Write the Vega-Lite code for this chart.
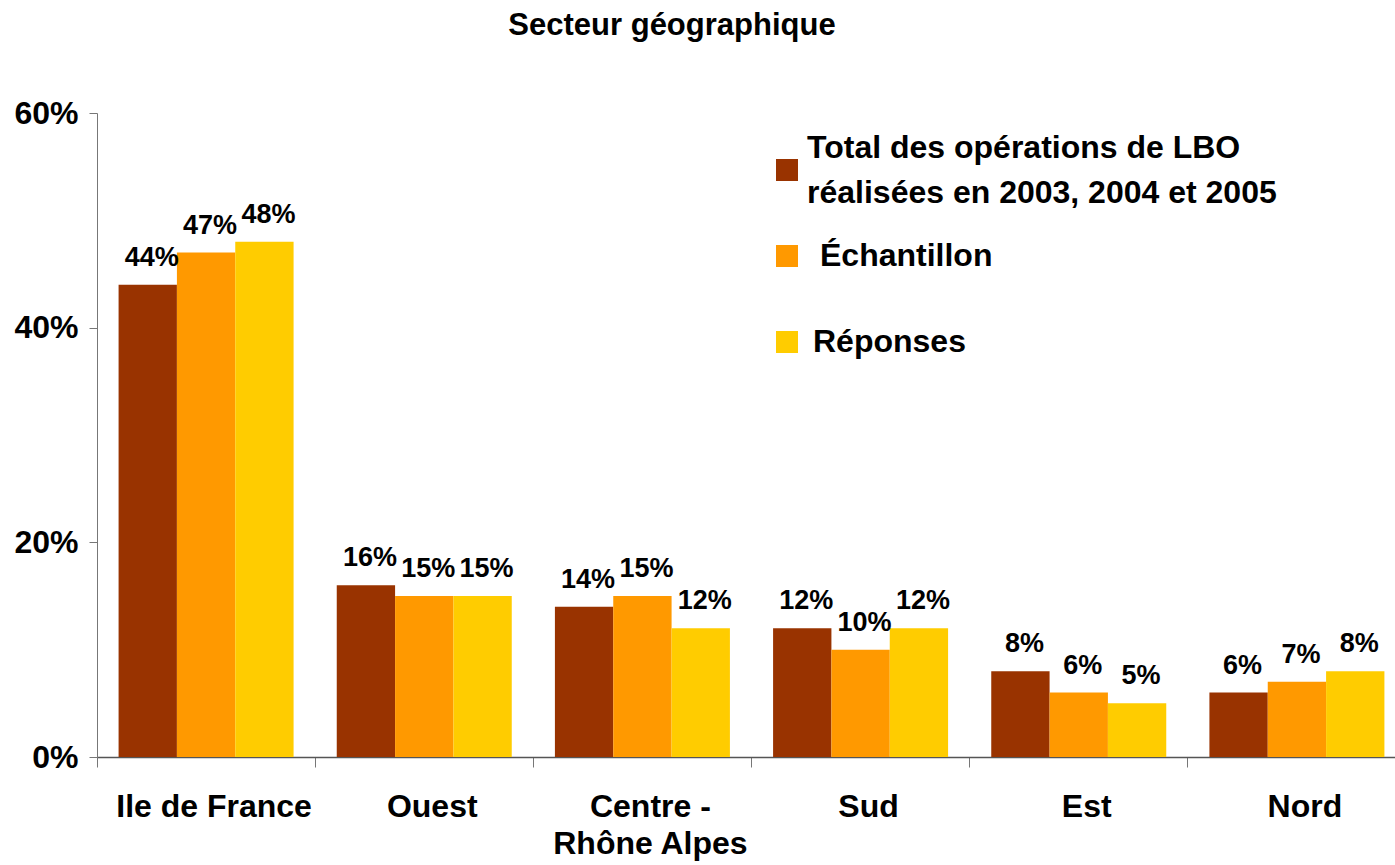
{
  "$schema": "https://vega.github.io/schema/vega-lite/v6.json",
  "autosize": "none",
  "width": 1298,
  "height": 644,
  "padding": {"left": 97, "top": 113, "right": 0, "bottom": 108},
  "background": "white",
  "title": {
    "text": "Secteur géographique",
    "font": "Liberation Sans",
    "fontSize": 31,
    "fontWeight": "bold",
    "color": "black",
    "anchor": "middle",
    "frame": "group",
    "dx": -74,
    "dy": 29,
    "baseline": "alphabetic",
    "offset": 60
  },
  "config": {
    "view": {"stroke": null},
    "font": "Liberation Sans"
  },
  "data": {
    "values": [
      {"secteur": "Ile de France", "serie": "Total", "valeur": 0.44},
      {"secteur": "Ile de France", "serie": "Échantillon", "valeur": 0.47},
      {"secteur": "Ile de France", "serie": "Réponses", "valeur": 0.48},
      {"secteur": "Ouest", "serie": "Total", "valeur": 0.16},
      {"secteur": "Ouest", "serie": "Échantillon", "valeur": 0.15},
      {"secteur": "Ouest", "serie": "Réponses", "valeur": 0.15},
      {"secteur": "Centre - Rhône Alpes", "serie": "Total", "valeur": 0.14},
      {"secteur": "Centre - Rhône Alpes", "serie": "Échantillon", "valeur": 0.15},
      {"secteur": "Centre - Rhône Alpes", "serie": "Réponses", "valeur": 0.12},
      {"secteur": "Sud", "serie": "Total", "valeur": 0.12},
      {"secteur": "Sud", "serie": "Échantillon", "valeur": 0.10},
      {"secteur": "Sud", "serie": "Réponses", "valeur": 0.12},
      {"secteur": "Est", "serie": "Total", "valeur": 0.08},
      {"secteur": "Est", "serie": "Échantillon", "valeur": 0.06},
      {"secteur": "Est", "serie": "Réponses", "valeur": 0.05},
      {"secteur": "Nord", "serie": "Total", "valeur": 0.06},
      {"secteur": "Nord", "serie": "Échantillon", "valeur": 0.07},
      {"secteur": "Nord", "serie": "Réponses", "valeur": 0.08}
    ]
  },
  "encoding": {
    "x": {
      "field": "secteur",
      "type": "nominal",
      "sort": ["Ile de France", "Ouest", "Centre - Rhône Alpes", "Sud", "Est", "Nord"],
      "scale": {"range": [0, 1309], "paddingInner": 0, "paddingOuter": 0},
      "axis": {
        "title": null,
        "labelAngle": 0,
        "bandPosition": 0,
        "labelOffset": 8,
        "labelFont": "Liberation Sans",
        "labelFontSize": 32,
        "labelFontWeight": "bold",
        "labelColor": "black",
        "labelPadding": 24,
        "labelLineHeight": 37,
        "labelLimit": 400,
        "labelExpr": "datum.value == 'Centre - Rhône Alpes' ? ['Centre -', 'Rhône Alpes'] : datum.value",
        "tickSize": 10,
        "tickColor": "#777777",
        "domainColor": "#555555",
        "domainWidth": 1.5,
        "grid": false
      }
    },
    "xOffset": {
      "field": "serie",
      "type": "nominal",
      "sort": ["Total", "Échantillon", "Réponses"],
      "scale": {"paddingInner": 0, "paddingOuter": 0.37}
    },
    "y": {
      "field": "valeur",
      "type": "quantitative",
      "scale": {"domain": [0, 0.6], "nice": false},
      "axis": {
        "title": null,
        "values": [0, 0.2, 0.4, 0.6],
        "format": ".0%",
        "labelFont": "Liberation Sans",
        "labelFontSize": 32,
        "labelFontWeight": "bold",
        "labelColor": "black",
        "labelPadding": 11,
        "tickSize": 8,
        "tickColor": "#777777",
        "domainColor": "#777777",
        "grid": false
      }
    }
  },
  "layer": [
    {
      "mark": {"type": "bar"},
      "encoding": {
        "color": {
          "field": "serie",
          "type": "nominal",
          "scale": {
            "domain": ["Total", "Échantillon", "Réponses"],
            "range": ["#993300", "#FF9900", "#FFCC00"]
          },
          "legend": {
            "title": null,
            "orient": "none",
            "legendX": 674,
            "legendY": 41,
            "symbolType": "square",
            "symbolSize": 484,
            "symbolStrokeWidth": 0,
            "symbolOpacity": 1,
            "gridAlign": "all",
            "rowPadding": 8,
            "labelFont": "Liberation Sans",
            "labelFontSize": 32,
            "labelFontWeight": "bold",
            "labelColor": "black",
            "labelOffset": 4,
            "labelLimit": 800,
            "labelExpr": "datum.label == 'Total' ? ['Total des opérations de LBO', 'réalisées en 2003, 2004 et 2005'] : ['\u00a0', datum.label, '\u00a0']",
            "encode": {
              "labels": {
                "update": {
                  "lineHeight": {"signal": "datum.label == 'Total' ? 45 : 22.5"},
                  "dy": {"value": -22.5},
                  "dx": {"signal": "datum.label == 'Échantillon' ? 13 : datum.label == 'Réponses' ? 6 : 0"}
                }
              }
            }
          }
        }
      }
    },
    {
      "mark": {
        "type": "text",
        "font": "Liberation Sans",
        "fontSize": 27,
        "fontWeight": "bold",
        "color": "black",
        "baseline": "alphabetic",
        "dy": -19,
        "dx": 4
      },
      "encoding": {
        "text": {"field": "valeur", "type": "quantitative", "format": ".0%"}
      }
    }
  ]
}
